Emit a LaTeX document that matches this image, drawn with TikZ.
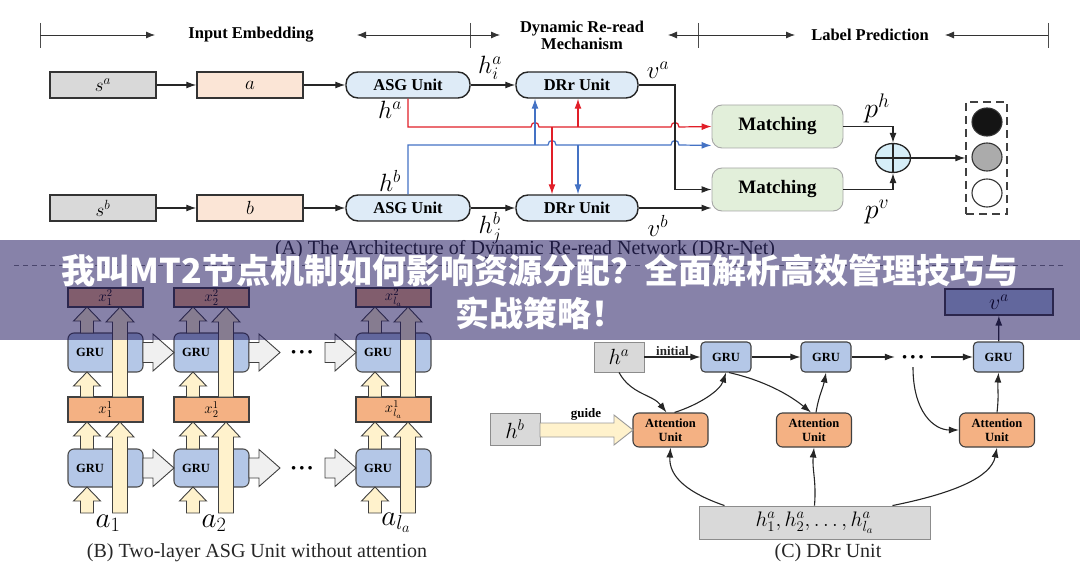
\RequirePackage{fix-cm}
\documentclass[tikz,border=0pt]{standalone}
\usepackage{fontspec}
\setmainfont{Liberation Serif}
\newfontfamily\cjk{Noto Sans CJK SC}
\usetikzlibrary{arrows.meta,calc,shapes.geometric,positioning}

\definecolor{boxgray}{RGB}{217,217,217}
\definecolor{peach}{RGB}{251,229,214}
\definecolor{unitblue}{RGB}{222,235,247}
\definecolor{matchgreen}{RGB}{226,239,218}
\definecolor{linered}{RGB}{225,30,40}
\definecolor{lineblue}{RGB}{68,114,196}
\definecolor{plusblue}{RGB}{214,238,248}
\definecolor{grublue}{RGB}{180,199,231}
\definecolor{attorange}{RGB}{244,177,131}
\definecolor{paleyellow}{RGB}{255,242,204}
\definecolor{arrowgray}{RGB}{240,240,240}
\definecolor{bannerpurple}{RGB}{24,16,90}

\newcommand{\sizept}[1]{\fontsize{#1}{#1}\selectfont}
% block arrows: style, x, y base, y tip, shaft half, head half, head length
\newcommand{\blockup}[7]{\draw[#1] (#2-#5,#3) -- (#2-#5,#4+#7) -- (#2-#6,#4+#7) -- (#2,#4) -- (#2+#6,#4+#7) -- (#2+#5,#4+#7) -- (#2+#5,#3) -- cycle;}
% style, x start, x tip, y, shaft half, head half, head length
\newcommand{\blockright}[7]{\draw[#1] (#2,#4-#5) -- (#3-#7,#4-#5) -- (#3-#7,#4-#6) -- (#3,#4) -- (#3-#7,#4+#6) -- (#3-#7,#4+#5) -- (#2,#4+#5) -- cycle;}

\tikzset{
  hdr/.style={font=\bfseries\fontsize{16.5}{17}\selectfont, inner sep=1pt},
  hdrarr/.style={-{Latex[length=9pt,width=7pt]}, line width=0.8pt, black!80},
  arr/.style={-{Latex[length=10pt,width=7pt]}, line width=1.2pt, black!85},
  redarr/.style={arr, linered},
  bluearr/.style={arr, lineblue},
  inbox/.style={draw=black!80, line width=1.4pt, fill=boxgray, minimum width=106pt, minimum height=26pt, inner sep=0pt, font=\sizept{19}},
  embbox/.style={inbox, fill=peach},
  unit/.style={draw=black!85, line width=1.4pt, fill=unitblue, rounded corners=12pt, minimum height=26pt, inner sep=0pt, font=\bfseries\sizept{16.5}},
  match/.style={draw=black!35, line width=0.9pt, fill=matchgreen, rounded corners=10pt, minimum width=131pt, minimum height=43pt, inner sep=0pt, font=\bfseries\sizept{19}},
  mlab/.style={font=\sizept{25}, inner sep=0pt},
  grub/.style={draw=black!70, line width=1.1pt, fill=grublue, rounded corners=6pt, minimum width=75pt, minimum height=38pt, inner sep=0pt},
  grutxt/.style={font=\bfseries\sizept{12.5}, inner sep=0pt},
  xbox/.style={draw=black!75, line width=1.1pt, fill=attorange, minimum width=75pt, minimum height=25pt, inner sep=0pt, font=\sizept{15}},
  yblk/.style={draw=black!75, line width=0.9pt, fill=paleyellow},
  gblk/.style={draw=black!75, line width=0.9pt, fill=arrowgray},
  captxt/.style={font=\sizept{20}, text=black!85, inner sep=0pt},
  cgray/.style={draw=black!45, line width=0.9pt, fill=boxgray, inner sep=0pt, font=\sizept{22}},
  cgru/.style={draw=black!75, line width=1.1pt, fill=grublue, rounded corners=4pt, minimum width=50pt, minimum height=30pt, inner sep=0pt, font=\bfseries\sizept{12.5}},
  att/.style={draw=black!75, line width=1.1pt, fill=attorange, rounded corners=6pt, minimum width=75pt, minimum height=34pt, inner sep=0pt, align=center, font=\bfseries\fontsize{12.5}{14}\selectfont},
  carr/.style={-{Latex[length=10pt,width=7pt]}, line width=1.1pt, black!85},
  dotsn/.style={font=\sizept{9}, minimum width=36pt, minimum height=20pt, inner sep=0pt},
  bantxt/.style={font=\cjk\bfseries\sizept{34}, text=white, inner sep=0pt}
}

\begin{document}
\begin{tikzpicture}[x=1pt,y=-1pt]
\useasboundingbox (0,0) rectangle (1080,583);

% header
\foreach \t in {40,470,698,1048} \draw[line width=0.8pt, black!70] (\t,23) -- (\t,48);
\draw[hdrarr] (40,35) -- (155,35);
\draw[hdrarr] (470,35) -- (357,35);
\draw[hdrarr] (470,35) -- (500,35);
\draw[hdrarr] (698,35) -- (668,35);
\draw[hdrarr] (698,35) -- (795,35);
\draw[hdrarr] (1048,35) -- (945,35);
\node[hdr] (tIE) at (251,35) {Input Embedding};
\node[hdr, align=center] (tDR) at (582,35) {Dynamic Re-read\\Mechanism};
\node[hdr] (tLP) at (870,35) {Label Prediction};

% (A) network
\node[inbox] (sA) at (103,85) {$s^a$};
\node[embbox] (eA) at (250,85) {$a$};
\node[unit, minimum width=124pt] (asgA) at (408,85) {ASG Unit};
\node[unit, minimum width=122pt] (drrA) at (577,85) {DRr Unit};
\node[inbox] (sB) at (103,208) {$s^b$};
\node[embbox] (eB) at (250,208) {$b$};
\node[unit, minimum width=124pt] (asgB) at (408,208) {ASG Unit};
\node[unit, minimum width=122pt] (drrB) at (577,208) {DRr Unit};
\node[match] (m1) at (777.5,126.5) {Matching};
\node[match] (m2) at (777.5,189.5) {Matching};
\node[ellipse, draw=black!85, line width=1.3pt, fill=plusblue, minimum width=35pt, minimum height=29pt, inner sep=0pt] (plus) at (893,158) {};
\draw[line width=1.1pt, black!85] (plus.north) -- (plus.south) (plus.west) -- (plus.east);
\node[draw=black!75, dashed, dash pattern=on 8pt off 5pt, line width=1.3pt, minimum width=41pt, minimum height=112pt, inner sep=0pt] (out) at (986.5,158) {};
\node[ellipse, draw=black!80, line width=1.1pt, fill=black!92, minimum width=30pt, minimum height=28pt] (o1) at (987,122) {};
\node[ellipse, draw=black!80, line width=1.1pt, fill=black!33, minimum width=30pt, minimum height=28pt] (o2) at (987,157) {};
\node[ellipse, draw=black!80, line width=1.1pt, fill=white, minimum width=30pt, minimum height=28pt] (o3) at (987,193) {};

\draw[arr] (sA) -- (eA);
\draw[arr] (eA) -- (asgA);
\draw[arr] (asgA) -- (drrA);
\draw[arr] (sB) -- (eB);
\draw[arr] (eB) -- (asgB);
\draw[arr] (asgB) -- (drrB);

\coordinate (rd) at (552,127);
\coordinate (ru) at (578,127);
\coordinate (bu) at (535,145);
\coordinate (bd) at (578,145);
\coordinate (vx) at (675,150);
\draw[redarr] (asgA.south) |- (531,127) .. controls (531,121) and (539,121) .. (539,127) -- (671,127) .. controls (671,121) and (679,121) .. (679,127) -- (m1.west);
\draw[bluearr] (asgB.north) |- (548,145) .. controls (548,139) and (556,139) .. (556,145) -- (671,145) .. controls (671,139) and (679,139) .. (679,145) -- ($(m1.south west)+(0,-3)$);
\draw[redarr] (ru) -- (drrA.south -| ru);
\draw[redarr] (rd) -- (drrB.north -| rd);
\draw[bluearr] (bu) -- (drrA.south -| bu);
\draw[bluearr] (bd) -- (drrB.north -| bd);
\draw[arr] (drrA.east) -| (vx) |- (m2.west);
\draw[arr] (drrB.east) -- (m2.west |- drrB.east);
\draw[arr] (m1.east) -| (plus.north);
\draw[arr] (m2.east) -| (plus.south);
\draw[arr] (plus.east) -- (out.west);

\node[mlab] (lhia) at (490,68) {$h_i^a$};
\node[mlab] (lha) at (390,110) {$h^a$};
\node[mlab] (lhb) at (390,181) {$h^b$};
\node[mlab] (lhjb) at (490,228) {$h_j^b$};
\node[mlab] (lva) at (658,70) {$v^a$};
\node[mlab] (lvb) at (658,226) {$v^b$};
\node[mlab, font=\sizept{28}] (lph) at (877,108) {$p^h$};
\node[mlab, font=\sizept{28}] (lpv) at (877,212) {$p^v$};

\node[captxt] (capA) at (525,250) {(A) The Architecture of Dynamic Re-read Network (DRr-Net)};
\draw[black!50, line width=0.9pt, dash pattern=on 5pt off 4pt] (14,265) -- (1066,265);

% (B) two-layer ASG unit
\foreach \cx/\k/\ix in {68/1/1,174/2/2,356/3/{l_a}} {
  \node[grub] (gruL\k) at (\cx+37.5,468) {};
  \node[grub, minimum height=39pt] (gruU\k) at (\cx+37.5,352.5) {};
  \node[xbox] (xa\k) at (\cx+37.5,409.5) {$x^1_{\ix}$};
  \node[xbox, minimum height=19pt] (xb\k) at (\cx+37.5,297.5) {$x^2_{\ix}$};
  \blockup{yblk}{\cx+19}{513}{487}{6.5}{13.5}{14}
  \blockup{yblk}{\cx+19}{449}{422}{6.5}{13.5}{14}
  \blockup{yblk}{\cx+19}{397}{372}{6.5}{13.5}{14}
  \blockup{yblk}{\cx+19}{333}{307}{6.5}{13.5}{14}
  \blockup{yblk}{\cx+52}{513}{422}{7.5}{14}{15}
  \blockup{yblk}{\cx+52}{397}{307}{7.5}{14}{15}
  \node[grutxt] (gLt\k) at (\cx+22,468) {GRU};
  \node[grutxt] (gUt\k) at (\cx+22,352.5) {GRU};
  \node[font=\sizept{29}, inner sep=0pt] (a\k) at (\cx+40,523) {$a_{\ix}$};
}
\foreach \y/\r in {468/L,352.5/U} {
  \blockright{gblk}{143}{174}{\y}{10}{18.5}{21}
  \blockright{gblk}{249}{280}{\y}{10}{18.5}{21}
  \blockright{gblk}{325}{356}{\y}{10}{18.5}{21}
  \node[dotsn] (dotsB\r) at (302,\y) {$\bullet\,\bullet\,\bullet$};
}
\node[captxt] (capB) at (257,553) {(B) Two-layer ASG Unit without attention};

% (C) DRr unit
\node[cgray, minimum width=50pt, minimum height=30pt] (hA) at (619,357) {$h^a$};
\node[cgray, minimum width=50pt, minimum height=32pt] (hB) at (515,429) {$h^b$};
\node[cgru] (gru1) at (726,357) {GRU};
\node[cgru] (gru2) at (826,357) {GRU};
\node[cgru] (gru3) at (998.5,357) {GRU};
\node[dotsn] (dots) at (913,357) {$\bullet\,\bullet\,\bullet$};
\node[draw=black!75, line width=1.1pt, fill=grublue, minimum width=108pt, minimum height=26pt, inner sep=0pt, font=\sizept{22}] (vA) at (999,302) {$v^a$};
\node[att] (AU1) at (670.5,430) {Attention\\Unit};
\node[att] (AU2) at (814,430) {Attention\\Unit};
\node[att] (AU3) at (997,430) {Attention\\Unit};
\node[cgray, minimum width=231pt, minimum height=33pt, font=\sizept{21}] (hbot) at (814.5,522.5) {$h_1^a,h_2^a,\ldots,h_{l_a}^a$};
\node[captxt] (capC) at (828,553) {(C) DRr Unit};

\draw[arr] (hA) -- (gru1) node[midway, above=1pt, font=\bfseries\sizept{13}, inner sep=0pt] (tinit) {initial};
\draw[arr] (gru1) -- (gru2);
\draw[arr] (gru2) -- (dots);
\draw[arr] (dots) -- (gru3);
\draw[arr] (gru3) -- (vA);
\blockright{draw=black!40, line width=0.9pt, fill=paleyellow}{540}{633}{430}{7}{15}{19}
\node[font=\bfseries\sizept{13}, inner sep=0pt] (tguide) at (586,414) {guide};

\draw[carr] (hA.south) .. controls +(12,22) and +(-14,-18) .. ($(AU1.north)+(-4,0)$);
\draw[carr] ($(AU1.north)+(4,0)$) .. controls +(25,-8) and +(-6,18) .. (gru1.south);
\draw[carr] ($(gru1.south)+(3,0)$) .. controls +(35,8) and +(-22,-18) .. ($(AU2.north)+(-3,0)$);
\draw[carr] ($(AU2.north)+(2,0)$) .. controls +(3,-18) and +(-3,16) .. (gru2.south);
\draw[carr] (dots.south) .. controls +(0,45) and +(-25,0) .. (AU3.west);
\draw[carr] (AU3.north) .. controls +(2,-16) and +(-1,16) .. (gru3.south);
\draw[carr] ($(hbot.north)+(-90,0)$) .. controls +(-35,-12) and +(-2,30) .. (AU1.south);
\draw[carr] (hbot.north) .. controls +(2,-25) and +(-2,22) .. (AU2.south);
\draw[carr] ($(hbot.north)+(78,0)$) .. controls +(60,-12) and +(-6,30) .. (AU3.south);

% banner
\fill[fill=bannerpurple, fill opacity=0.52] (0,240) rectangle (1080,340);
\node[bantxt] (ban1) at (540,271) {我叫MT2节点机制如何影响资源分配？全面解析高效管理技巧与};
\node[bantxt] (ban2) at (540,313) {实战策略！};
\end{tikzpicture}
\end{document}
